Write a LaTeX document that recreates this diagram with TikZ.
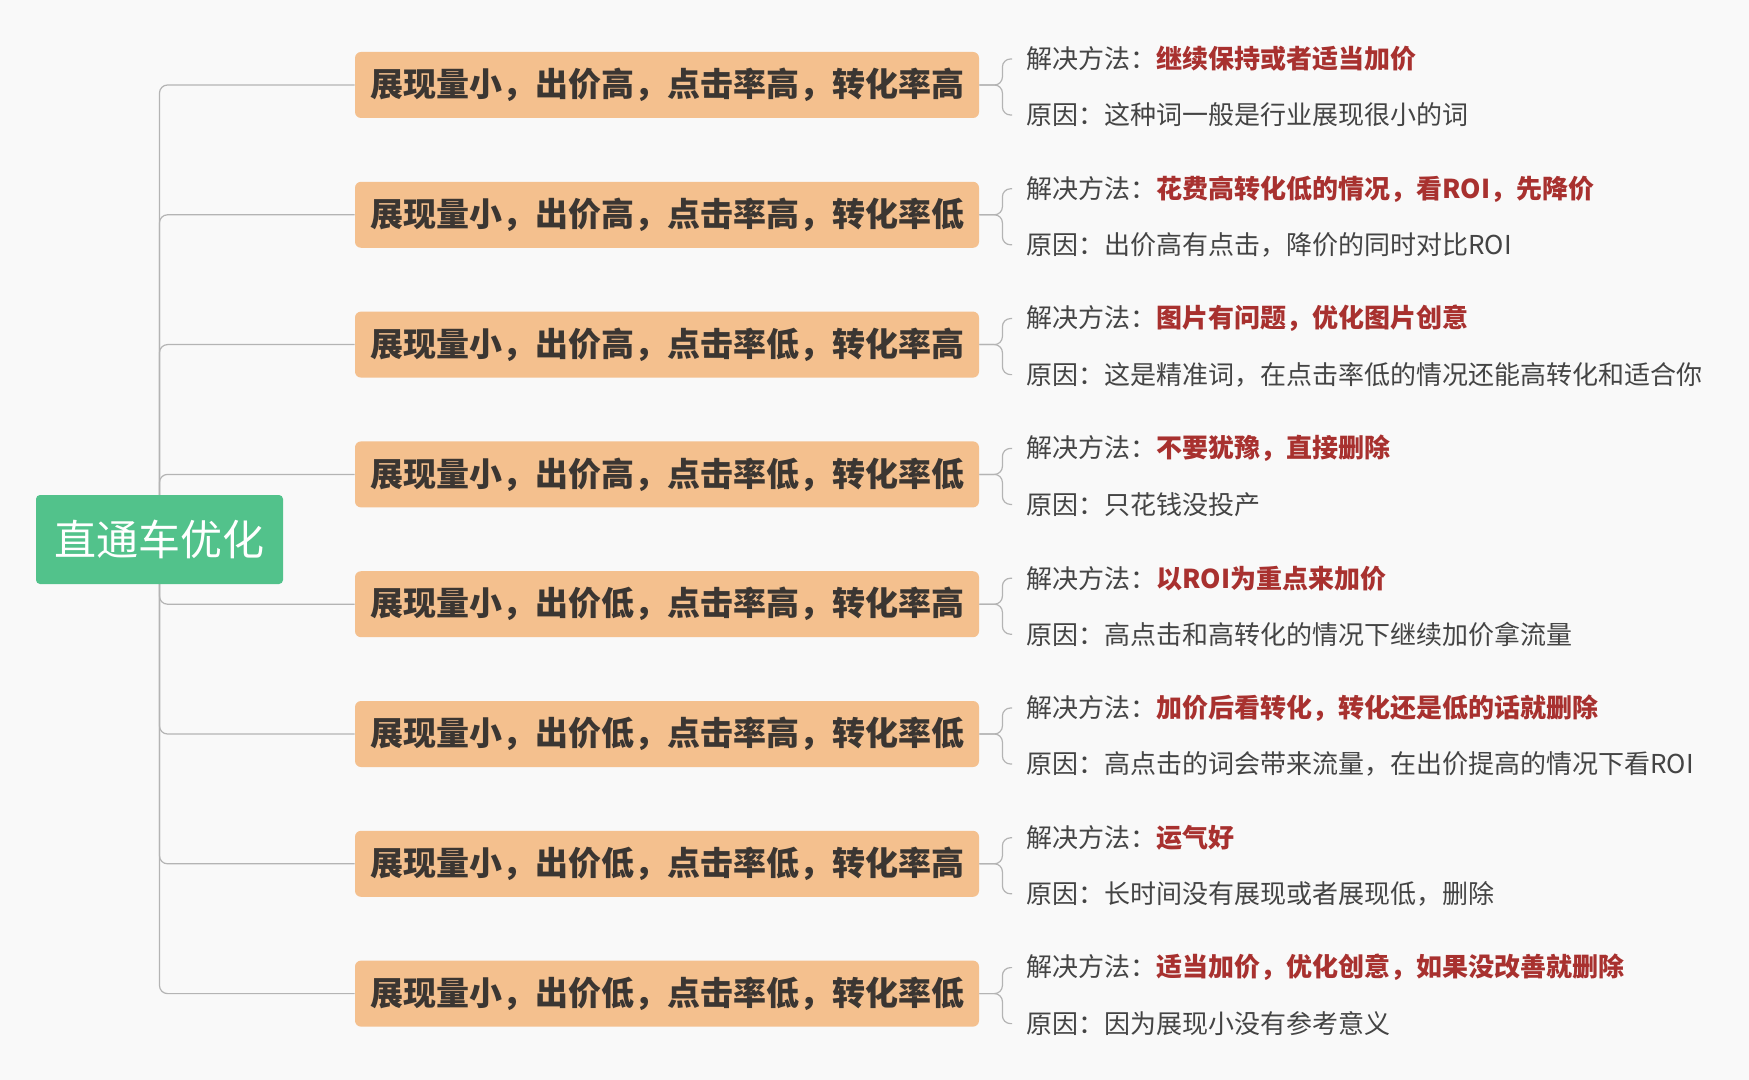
\documentclass[tikz,border=0pt]{standalone}
\usepackage{fontspec}
\setmainfont{Noto Sans CJK SC}
\usetikzlibrary{backgrounds}
\pgfdeclarelayer{bgfill}
\pgfdeclarelayer{background}
\pgfsetlayers{bgfill,background,main}
\definecolor{bgc}{HTML}{F9F9F9}
\definecolor{rootc}{HTML}{52C28B}
\definecolor{boxc}{HTML}{F4C08E}
\definecolor{boxtxt}{HTML}{3B3632}
\definecolor{linec}{HTML}{B4B4B4}
\definecolor{leaftxt}{HTML}{444444}
\definecolor{redtxt}{HTML}{A8312F}
\tikzset{
  rootbox/.style={fill=rootc, text=white, rounded corners=2pt, minimum width=123.5pt, minimum height=44.5pt, inner sep=0pt, font=\fontsize{21pt}{24pt}\selectfont},
  branchbox/.style={fill=boxc, text=boxtxt, rounded corners=3pt, minimum width=312pt, minimum height=33pt, inner sep=0pt, font=\fontsize{16.5pt}{19pt}\selectfont\bfseries},
  leaf/.style={anchor=west, text=leaftxt, inner xsep=7pt, inner ysep=0pt, font=\fontsize{13pt}{15pt}\selectfont},
  conn/.style={draw=linec, line width=0.6pt, rounded corners=4pt}
}
\begin{document}
\begin{tikzpicture}[x=0.5pt, y=-0.5pt]
\useasboundingbox (0,0) rectangle (1749,1080);
\begin{pgfonlayer}{bgfill}
\fill[bgc] (0,0) rectangle (1749,1080);
\end{pgfonlayer}
\node[rootbox] (root) at (159.5,539.5) {\raisebox{-1.5pt}{直通车优化}};
\foreach \i/\lab/\sol/\why in {
 0/{展现量小，出价高，点击率高，转化率高}/{继续保持或者适当加价}/{这种词一般是行业展现很小的词},
 1/{展现量小，出价高，点击率高，转化率低}/{花费高转化低的情况，看ROI，先降价}/{出价高有点击，降价的同时对比ROI},
 2/{展现量小，出价高，点击率低，转化率高}/{图片有问题，优化图片创意}/{这是精准词，在点击率低的情况还能高转化和适合你},
 3/{展现量小，出价高，点击率低，转化率低}/{不要犹豫，直接删除}/{只花钱没投产},
 4/{展现量小，出价低，点击率高，转化率高}/{以ROI为重点来加价}/{高点击和高转化的情况下继续加价拿流量},
 5/{展现量小，出价低，点击率高，转化率低}/{加价后看转化，转化还是低的话就删除}/{高点击的词会带来流量，在出价提高的情况下看ROI},
 6/{展现量小，出价低，点击率低，转化率高}/{运气好}/{长时间没有展现或者展现低，删除},
 7/{展现量小，出价低，点击率低，转化率低}/{适当加价，优化创意，如果没改善就删除}/{因为展现小没有参考意义}}
{
  \pgfmathsetmacro{\cy}{85+129.8*\i}
  \node[branchbox] (b\i) at (667,\cy) {\lab};
  \node[leaf] (s\i) at (1012,\cy-26) {解决方法：{\color{redtxt}\bfseries\sol}};
  \node[leaf] (r\i) at (1012,\cy+30) {原因：\why};
  \begin{pgfonlayer}{background}
    \draw[conn] (root.center) |- (b\i.west);
  \end{pgfonlayer}
  \draw[conn] (b\i.east) -- ++(23,0) |- (s\i.west);
  \draw[conn] (b\i.east) -- ++(23,0) |- (r\i.west);
}
\end{tikzpicture}
\end{document}
